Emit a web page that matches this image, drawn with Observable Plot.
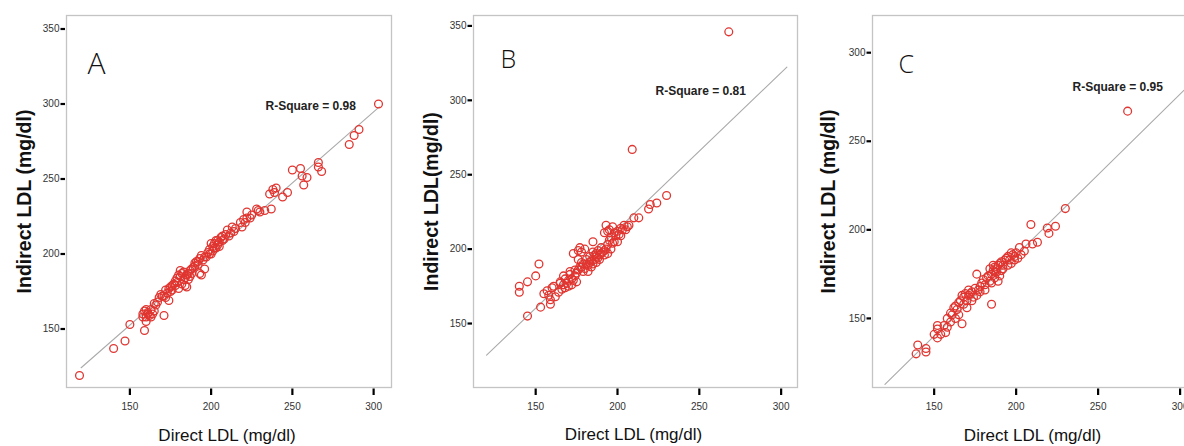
<!DOCTYPE html>
<html><head><meta charset="utf-8">
<script src="https://cdn.jsdelivr.net/npm/d3@7"></script>
<script src="https://cdn.jsdelivr.net/npm/@observablehq/plot@0.6"></script>
<style>
html,body{margin:0;padding:0;background:#fff;}
#wrap{position:relative;width:1184px;height:446px;overflow:hidden;background:#fff;}
#wrap svg{position:absolute;top:0;}
</style></head><body><div id="wrap"></div>
<script>
// ---- labels / ticks ----
const xTicks = [150, 200, 250, 300];
const yTicksAB = [150, 200, 250, 300, 350];
const yTicksC = [150, 200, 250, 300];
const panelLetters = ["A", "B", "C"];
const rSquare = ["0.98", "0.81", "0.95"];
const xTitle = "Direct LDL (mg/dl)";
const yTitles = ["Indirect LDL (mg/dl)", "Indirect LDL(mg/dl)", "Indirect LDL (mg/dl)"];

// ---- Panel A data ----
const directA = [119,140,147,150,159,160,158,159,160,161,162,163,164,165,158,171,165,168,169,170,174,172,174,175,177,178,176,180,184,185,179,180,181,182,183,184,185,186,181,187,188,190,191,193,194,193,196,194,195,197,192,189,198,199,200,201,202,203,204,205,206,207,208,209,210,212,213,215,219,220,222,224,222,228,229,233,237,236,238,240,244,247,250,255,256,257,259,266,266,268,285,288,291,303,
  166,167,171,173,176,178,183,182,179,186,187,188,190,192,196,199,201,202,204,207,160,161,163,172,175,200,203,205,211,214,218,221,225,230,239];
const indirectA = [119,137,142,153,149,155,160,162,158,161,159,163,160,162,158,159,167,171,173,172,169,176,177,178,180,179,176,177,179,178,184,186,185,187,188,184,186,183,189,189,190,194,195,197,199,187,190,186,196,198,193,191,201,203,200,205,207,209,206,208,211,212,210,213,216,214,218,217,218,223,224,224,228,230,229,229,230,240,243,244,238,241,256,257,252,246,251,261,258,255,273,279,283,300,
  166,168,172,174,179,182,183,180,181,187,185,187,192,195,198,200,202,204,209,209,163,160,158,171,175,207,204,205,212,215,221,221,226,228,241];
const fitA = [10.4, 0.948];   // intercept, slope

// ---- Panel B data ----
const directB = [268,209,230,224,220,219,213,210,206,193,192,197,202,199,202,197,193,185,177,176,176,173,187,184,181,178,174,171,168,165,161,157,159,159,153,145,140,140,145,150,152,155,158,160,162,167,175,172,165,164,
  180,182,183,185,186,187,188,189,190,191,192,188,186,184,182,179,178,177,175,174,172,170,169,168,167,166,170,171,173,176,179,181,183,185,190,194,195,196,198,200,201,203,204,198,194,192,189,187,195,200,205,207,194,196,178,180];
const indirectB = [346,267,236,231,230,227,221,221,215,216,211,215,214,209,209,204,200,205,201,199,193,197,197,192,190,188,186,183,180,178,175,172,166,163,161,155,175,171,178,182,190,170,169,174,168,182,178,176,177,171,
  187,189,191,190,193,195,194,196,197,198,199,199,196,188,185,185,191,188,184,182,180,179,177,174,176,173,175,185,179,186,190,193,195,198,201,203,206,208,211,212,210,213,216,205,197,196,193,191,213,205,213,216,212,200,198,200];
const fitB = [2.1, 1.055];

// ---- Panel C data ----
const directC = [268,230,209,219,220,224,213,210,206,202,197,201,195,191,187,189,184,181,177,172,168,165,162,160,163,167,156,152,150,154,176,185,140,139,145,145,152,152,157,158,
  170,171,173,174,175,178,179,180,182,183,185,186,187,188,189,190,191,192,193,194,195,196,198,199,200,185,187,190,192,166,168,169,171,164,161,163,167,173,176,178,181,184,186,188,197,199,203,205,160,158,165,170];
const indirectC = [267,212,203,201,198,202,193,192,192,190,187,184,180,177,176,171,171,169,166,164,162,159,156,153,150,147,146,144,141,141,175,158,135,130,133,131,146,139,142,145,
  160,163,165,162,167,168,170,172,173,174,175,177,179,178,180,181,182,180,183,184,185,183,186,185,187,170,173,174,178,160,158,164,166,155,152,157,163,160,163,165,166,178,180,176,181,183,186,188,148,150,152,156];
const fitC = [3.6, 0.91];

const fitRange = [120, 303.5];

const tickFont = "'Liberation Sans', Arial, sans-serif";
const RED = "#e03530";
const H = 446, MT = 15, MB = 59;

function panel(cfg) {
  const pts = cfg.direct.map((d, i) => ({x: d, y: cfg.indirect[i]}));
  const fitLine = fitRange.map(x => ({x, y: cfg.fit[0] + cfg.fit[1] * x}));
  const frameH = H - MT - MB;
  const frameW = cfg.width - cfg.ml - cfg.mr;
  const svg = Plot.plot({
    width: cfg.width, height: H,
    marginLeft: cfg.ml, marginRight: cfg.mr, marginTop: MT, marginBottom: MB,
    style: {fontFamily: tickFont, background: "transparent", overflow: "visible"},
    x: {domain: cfg.xDomain},
    y: {domain: cfg.yDomain},
    marks: [
      Plot.frame({stroke: "#c4c4c4", strokeWidth: 1.3}),
      Plot.axisX({ticks: xTicks, tickSize: 0, tickPadding: 15, fontSize: 10, label: null, fill: "#333"}),
      Plot.axisY({ticks: cfg.yTicks, tickSize: 0, tickPadding: 7, fontSize: 10, label: null, fill: "#333"}),
      // short tick marks outside the frame
      Plot.tickX(xTicks, {x: d => d, insetTop: frameH + 1.5, insetBottom: -8, stroke: "#000", strokeWidth: 2.2}),
      Plot.tickY(cfg.yTicks, {y: d => d, insetRight: frameW + 1, insetLeft: -5.5, stroke: "#000", strokeWidth: 2.2}),
      Plot.line(fitLine, {x: "x", y: "y", stroke: "#aaaaaa", strokeWidth: 1.1}),
      Plot.dot(pts, {x: "x", y: "y", r: 3.9, stroke: RED, strokeWidth: 1.3, fill: "none"}),
      Plot.text([cfg.letter], {frameAnchor: "top-left", text: d => d, dx: cfg.letterDx, dy: cfg.letterDy, lineAnchor: "top", textAnchor: "start", fontSize: cfg.letterSize, fill: "#111", fontFamily: "'Open Sans', 'Liberation Sans', sans-serif", fontWeight: 300}),
      Plot.text([cfg.rsq], {frameAnchor: "top-left", text: d => "R-Square = " + d, dx: cfg.rDx, dy: cfg.rDy, lineAnchor: "top", textAnchor: "start", fontSize: 12, fontWeight: "bold", fill: "#222"}),
      Plot.text([cfg.yTitle], {frameAnchor: "left", text: d => d, rotate: -90, dx: cfg.ytDx, dy: 0, textAnchor: "middle", lineAnchor: "middle", fontSize: 19.5, fontWeight: "bold", fill: "#111"}),
      Plot.text([xTitle], {frameAnchor: "bottom", text: d => d, dx: -2, dy: cfg.xtDy, textAnchor: "middle", lineAnchor: "middle", fontSize: 17, fill: "#111"})
    ]
  });
  svg.style.left = cfg.left + "px";
  document.getElementById("wrap").appendChild(svg);
}

panel({left: 0, width: 395, ml: 66, mr: 4, direct: directA, indirect: indirectA, fit: fitA,
  xDomain: [111, 311], yDomain: [111, 359], yTicks: yTicksAB, letter: panelLetters[0], letterSize: 30,
  letterDx: 21, letterDy: 37, rsq: rSquare[0], rDx: 199, rDy: 86, yTitle: yTitles[0], ytDx: -42, xtDy: 48});
panel({left: 400, width: 400, ml: 73, mr: 3, direct: directB, indirect: indirectB, fit: fitB,
  xDomain: [112, 310], yDomain: [107, 357], yTicks: yTicksAB, letter: panelLetters[1], letterSize: 25,
  letterDx: 27, letterDy: 35, rsq: rSquare[1], rDx: 182, rDy: 71, yTitle: yTitles[1], ytDx: -42, xtDy: 47});
panel({left: 800, width: 400, ml: 72, mr: 4, direct: directC, indirect: indirectC, fit: fitC,
  xDomain: [112.4, 310], yDomain: [111, 321], yTicks: yTicksC, letter: panelLetters[2], letterSize: 25,
  letterDx: 26, letterDy: 40, rsq: rSquare[2], rDx: 200, rDy: 67, yTitle: yTitles[2], ytDx: -44, xtDy: 48});
</script></body></html>
